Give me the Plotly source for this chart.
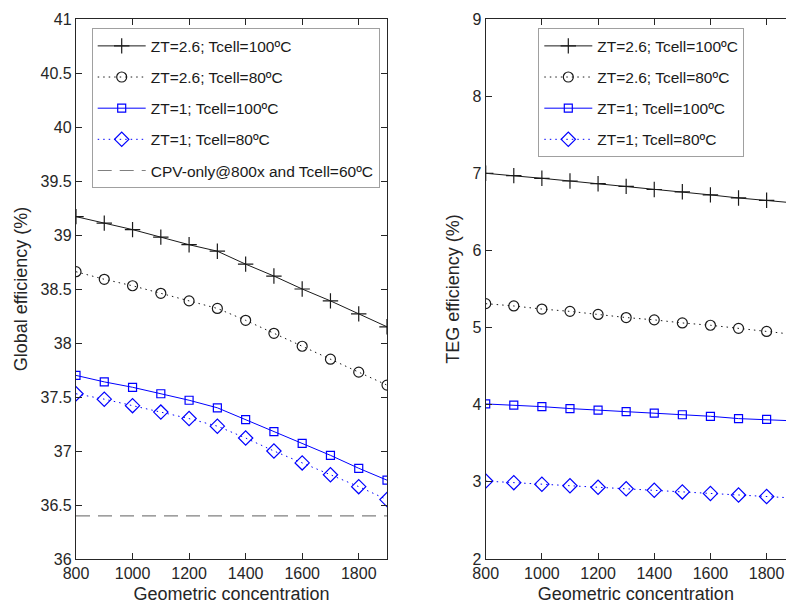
import plotly.graph_objects as go

# ---------------- data ----------------
conc = [800, 900, 1000, 1100, 1200, 1300, 1400, 1500, 1600, 1700, 1800, 1900]

glob_zt26_t100 = [39.17, 39.11, 39.05, 38.98, 38.91, 38.85, 38.73, 38.62, 38.50, 38.39, 38.27, 38.15]
glob_zt26_t80 = [38.66, 38.59, 38.53, 38.46, 38.39, 38.32, 38.21, 38.09, 37.97, 37.85, 37.73, 37.61]
glob_zt1_t100 = [37.70, 37.64, 37.59, 37.53, 37.47, 37.40, 37.29, 37.18, 37.07, 36.96, 36.84, 36.73]
glob_zt1_t80 = [37.53, 37.48, 37.42, 37.36, 37.30, 37.23, 37.12, 37.00, 36.89, 36.78, 36.67, 36.55]
cpv_x = [800, 1900]
cpv_only = [36.40, 36.40]

teg_zt26_t100 = [7.00, 6.97, 6.935, 6.90, 6.865, 6.83, 6.79, 6.76, 6.72, 6.68, 6.65, 6.615]
teg_zt26_t80 = [5.31, 5.28, 5.24, 5.21, 5.17, 5.13, 5.10, 5.06, 5.03, 4.99, 4.95, 4.91]
teg_zt1_t100 = [4.01, 3.995, 3.975, 3.95, 3.93, 3.91, 3.89, 3.87, 3.85, 3.82, 3.81, 3.79]
teg_zt1_t80 = [3.01, 2.99, 2.97, 2.95, 2.93, 2.91, 2.89, 2.87, 2.85, 2.83, 2.81, 2.79]

names = ["ZT=2.6; Tcell=100ºC", "ZT=2.6; Tcell=80ºC", "ZT=1; Tcell=100ºC", "ZT=1; Tcell=80ºC"]
cpv_name = "CPV-only@800x and Tcell=60ºC"

left_yticks = [36, 36.5, 37, 37.5, 38, 38.5, 39, 39.5, 40, 40.5, 41]
right_yticks = [2, 3, 4, 5, 6, 7, 8, 9]
xticks = [800, 1000, 1200, 1400, 1600, 1800]

# ---------------- styles ----------------
BLACK = "#262626"
BLUE = "#0000ff"
DOT = "1.5px,4px"
styles = [
    dict(color="#1a1a1a", dash="solid", symbol="cross-thin-open", size=11),
    dict(color="#1a1a1a", dash=DOT, symbol="circle-open", size=10),
    dict(color=BLUE, dash="solid", symbol="square-open", size=8),
    dict(color=BLUE, dash=DOT, symbol="diamond-open", size=11),
]
FONT = "Liberation Sans, Arial, sans-serif"

fig = go.Figure()

left_series = [glob_zt26_t100, glob_zt26_t80, glob_zt1_t100, glob_zt1_t80]
right_series = [teg_zt26_t100, teg_zt26_t80, teg_zt1_t100, teg_zt1_t80]

for i, (nm, ys, st) in enumerate(zip(names, left_series, styles)):
    fig.add_trace(go.Scatter(
        x=conc, y=ys, name=nm, mode="lines+markers",
        line=dict(color=st["color"], dash=st["dash"], width=1),
        marker=dict(symbol=st["symbol"], size=st["size"], color=st["color"],
                    line=dict(color=st["color"], width=1.2)),
        xaxis="x", yaxis="y", legend="legend", legendgroup="L%d" % i,
    ))
fig.add_trace(go.Scatter(
    x=cpv_x, y=cpv_only, name=cpv_name, mode="lines",
    line=dict(color="#808080", dash="14px,8px", width=1.2),
    xaxis="x", yaxis="y", legend="legend", legendgroup="L4",
))

for i, (nm, ys, st) in enumerate(zip(names, right_series, styles)):
    fig.add_trace(go.Scatter(
        x=conc, y=ys, name=nm, mode="lines+markers",
        line=dict(color=st["color"], dash=st["dash"], width=1),
        marker=dict(symbol=st["symbol"], size=st["size"], color=st["color"],
                    line=dict(color=st["color"], width=1.2)),
        xaxis="x2", yaxis="y2", legend="legend2", legendgroup="R%d" % i,
    ))

ydom = [52 / 611, 592 / 611]
axis_common = dict(
    showline=True, linecolor=BLACK, linewidth=1.3,
    ticks="inside", ticklen=6, tickcolor=BLACK, tickwidth=1,
    showgrid=False, zeroline=False, automargin=False,
    tickfont=dict(family=FONT, size=16, color=BLACK),
)
title_font = dict(family=FONT, size=18, color=BLACK)

legend_common = dict(
    bgcolor="white", bordercolor="#a0a0a0", borderwidth=1,
    font=dict(family=FONT, size=15.5, color="#1a1a1a"),
    xanchor="left", yanchor="top", tracegroupgap=8,
    traceorder="grouped", itemwidth=48,
)

fig.update_layout(
    width=786, height=611,
    margin=dict(l=0, r=0, t=0, b=0),
    plot_bgcolor="white", paper_bgcolor="white",
    font=dict(family=FONT, color=BLACK),
    xaxis=dict(domain=[76 / 786, 387 / 786], range=[800, 1900], tickvals=xticks,
               mirror="ticks", anchor="y",
               title=dict(text="Geometric concentration", font=title_font, standoff=6),
               **axis_common),
    yaxis=dict(domain=ydom, range=[36, 41], tickvals=left_yticks, ticktext=[("%g" % v) for v in left_yticks],
               mirror="ticks", anchor="x",
               title=dict(text="Global efficiency (%)", font=title_font, standoff=8),
               **axis_common),
    xaxis2=dict(domain=[485.7 / 786, 1.0], range=[800, 1869], tickvals=xticks,
                mirror="ticks", anchor="y2",
                title=dict(text="Geometric concentration", font=title_font, standoff=6),
                **axis_common),
    yaxis2=dict(domain=ydom, range=[2, 9], tickvals=right_yticks,
                mirror=False, anchor="x2",
                title=dict(text="TEG efficiency (%)", font=title_font, standoff=8),
                **axis_common),
    legend=dict(x=91.7 / 786, y=1 - 28.3 / 611, **legend_common),
    legend2=dict(x=538.3 / 786, y=1 - 28.3 / 611, **legend_common),
    showlegend=True,
)

fig.write_html("out.html")
